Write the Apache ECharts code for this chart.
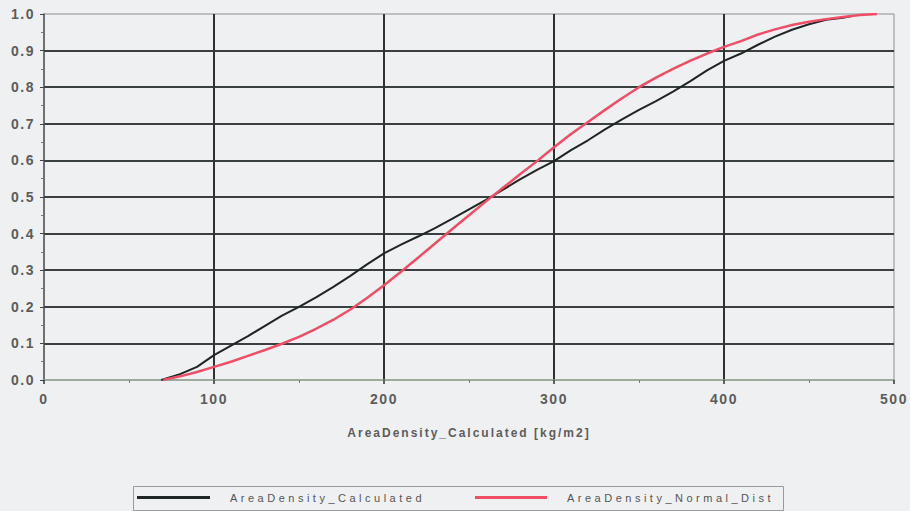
<!DOCTYPE html>
<html>
<head>
<meta charset="utf-8">
<script src="https://cdn.jsdelivr.net/npm/echarts@6/dist/echarts.min.js"></script>
<style>
html,body{margin:0;padding:0;background:#eef0f2;}
#chart{width:910px;height:511px;}
</style>
</head>
<body>
<div id="chart"></div>
<script>
var seriesNames = ['AreaDensity_Calculated', 'AreaDensity_Normal_Dist'];
var xAxisName = 'AreaDensity_Calculated [kg/m2]';

var calcX = [69,80,90,100,110,120,130,140,150,160,170,180,190,200,210,220,230,240,250,260,270,280,290,300,310,320,330,340,350,360,370,380,390,400,410,420,430,440,450,460,470,476];
var calcY = [0,0.016,0.036,0.068,0.094,0.12,0.148,0.176,0.2,0.226,0.254,0.284,0.316,0.346,0.37,0.392,0.415,0.44,0.466,0.492,0.52,0.548,0.574,0.598,0.628,0.655,0.685,0.712,0.738,0.762,0.788,0.816,0.846,0.872,0.892,0.916,0.938,0.957,0.972,0.984,0.99,0.995];

var normX = [70,80,90,100,110,120,130,140,150,160,170,180,190,200,210,220,230,240,250,260,270,280,290,300,310,320,330,340,350,360,370,380,390,400,410,420,430,440,450,460,470,480,490];
var normY = [0,0.01,0.022,0.036,0.05,0.066,0.082,0.099,0.118,0.14,0.164,0.192,0.224,0.259,0.296,0.334,0.373,0.412,0.45,0.488,0.525,0.562,0.598,0.636,0.672,0.705,0.738,0.77,0.8,0.826,0.85,0.872,0.892,0.91,0.926,0.944,0.958,0.97,0.979,0.986,0.992,0.997,1.0];

function zip(xs, ys){ return xs.map(function(x,i){ return [x, ys[i]]; }); }

var chart = echarts.init(document.getElementById('chart'), null, {renderer:'svg'});
var labelFont = {color:'#5c5c5c', fontSize:14, fontWeight:'bold', fontFamily:'Liberation Sans, Arial, sans-serif'};
var legendText = {color:'#555', fontSize:11, fontFamily:'Liberation Sans, Arial, sans-serif', padding:[0,0,0,15]};

chart.setOption({
  backgroundColor:'#eef0f2',
  animation:false,
  grid:{left:44, right:16, top:14, bottom:131, show:true, borderColor:'#8c8f8e', borderWidth:1, backgroundColor:'transparent'},
  xAxis:{
    type:'value', min:0, max:500, interval:100,
    name:xAxisName, nameLocation:'middle', nameGap:47,
    nameTextStyle:{color:'#5c5c5c', fontSize:12, fontWeight:'bold', fontFamily:'Liberation Sans, Arial, sans-serif'},
    axisLine:{show:true, lineStyle:{color:'#8fa58e', width:1.5}},
    axisTick:{show:true, inside:false, length:4, lineStyle:{color:'#333', width:1.5}},
    minorTick:{show:true, splitNumber:2, length:3, lineStyle:{color:'#777'}},
    axisLabel:Object.assign({margin:12}, labelFont),
    splitLine:{show:true, showMinLine:false, showMaxLine:false, lineStyle:{color:'#2e3331', width:2}}
  },
  yAxis:{
    type:'value', min:0, max:1, interval:0.1,
    axisLine:{show:true, lineStyle:{color:'#555', width:1.5}},
    axisTick:{show:true, length:4, lineStyle:{color:'#444'}},
    minorTick:{show:true, splitNumber:2, length:3, lineStyle:{color:'#777'}},
    axisLabel:Object.assign({margin:9, formatter:function(v){return v.toFixed(1);}}, labelFont),
    splitLine:{show:true, showMinLine:false, showMaxLine:false, lineStyle:{color:'#3a403e', width:2}}
  },
  legend:[
    {data:[seriesNames[0]], left:137, top:492, icon:'rect', itemWidth:73, itemHeight:3, itemGap:0, textStyle:legendText, padding:0},
    {data:[seriesNames[1]], left:475, top:492, icon:'rect', itemWidth:72, itemHeight:3, itemGap:0, textStyle:legendText, padding:0}
  ],
  graphic:[{type:'rect', left:133, top:486, shape:{width:650, height:24}, style:{fill:'transparent', stroke:'#9a9a9a', lineWidth:1}, silent:true}],
  series:[
    {name:seriesNames[0], type:'line', data:zip(calcX, calcY), showSymbol:false, symbol:'none', lineStyle:{color:'#1f2522', width:2}, itemStyle:{color:'#1f2522'}, z:3},
    {name:seriesNames[1], type:'line', data:zip(normX, normY), showSymbol:false, symbol:'none', lineStyle:{color:'#f04d66', width:2.5}, itemStyle:{color:'#f04d66'}, z:4}
  ]
});

function applySpacing(){
  var texts = document.querySelectorAll('#chart svg text');
  texts.forEach(function(t){
    var s = t.textContent;
    if (seriesNames.indexOf(s) >= 0) t.setAttribute('letter-spacing', '3.5');
    else if (s === xAxisName) t.setAttribute('letter-spacing', '2');
    else if (/^[0-9]/.test(s)) t.setAttribute('letter-spacing', '1.5');
  });
}
applySpacing();
chart.on('finished', applySpacing);
setTimeout(applySpacing, 50);
</script>
</body>
</html>
